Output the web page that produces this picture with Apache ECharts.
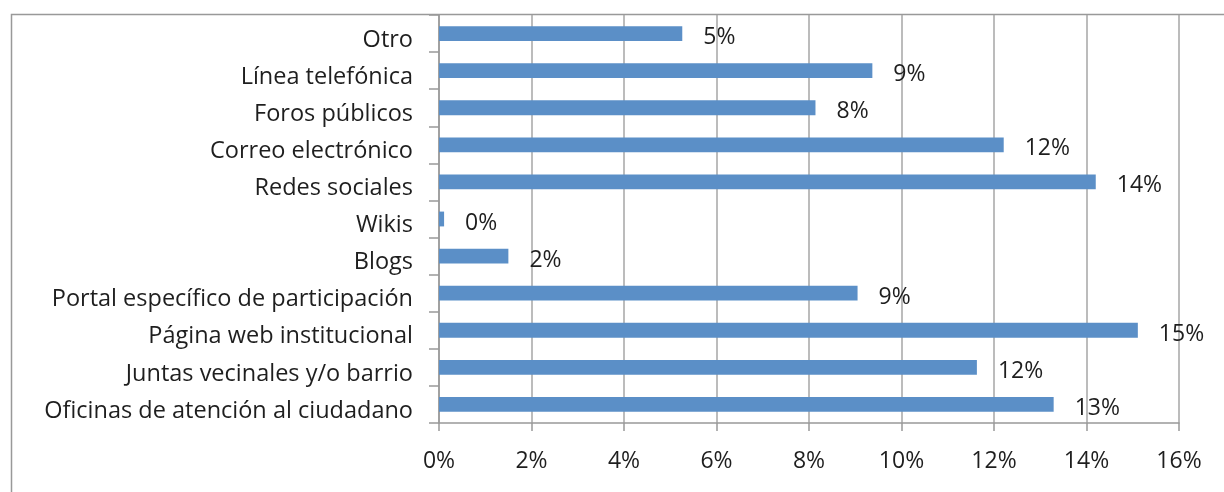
<!DOCTYPE html>
<html>
<head>
<meta charset="utf-8">
<script src="https://cdn.jsdelivr.net/npm/echarts@6/dist/echarts.min.js"></script>
<style>
  html, body { margin: 0; padding: 0; background: #fff; }
  #chart { width: 1224px; height: 492px; }
</style>
</head>
<body>
<div id="chart"></div>
<script>
// categories listed bottom to top (category axis starts at the bottom)
const categories = [
  "Oficinas de atención al ciudadano",
  "Juntas vecinales y/o barrio",
  "Página web institucional",
  "Portal específico de participación",
  "Blogs",
  "Wikis",
  "Redes sociales",
  "Correo electrónico",
  "Foros públicos",
  "Línea telefónica",
  "Otro"
];
// percentages
const values = [13.29, 11.63, 15.11, 9.05, 1.5, 0.11, 14.2, 12.21, 8.14, 9.37, 5.26];
const xTicks = [0, 2, 4, 6, 8, 10, 12, 14, 16];

const textColor = "#1e1e1e";
const fontFamily = "Open Sans";

const chart = echarts.init(document.getElementById("chart"));
chart.setOption({
  animation: false,
  graphic: [
    {
      type: "rect",
      left: 9,
      top: 12,
      shape: { width: 1300, height: 600 },
      style: { fill: "none", stroke: "#999", lineWidth: 1.5 },
      silent: true
    }
  ],
  grid: { left: 439, right: 45, top: 15, bottom: 69 },
  xAxis: {
    type: "value",
    min: xTicks[0],
    max: xTicks[xTicks.length - 1],
    interval: 2,
    axisLine: { show: true, lineStyle: { color: "#999", width: 1.5 } },
    axisTick: { show: true, length: 8, lineStyle: { color: "#999", width: 1.5 } },
    splitLine: { show: true, lineStyle: { color: "#a6a6a6", width: 1.5 } },
    axisLabel: {
      margin: 27,
      color: textColor,
      fontFamily: fontFamily,
      fontSize: 23,
      formatter: v => v + "%"
    }
  },
  yAxis: {
    type: "category",
    data: categories,
    axisLine: { show: true, lineStyle: { color: "#999", width: 1.5 } },
    axisTick: { show: true, length: 10, lineStyle: { color: "#999", width: 1.5 } },
    axisLabel: {
      margin: 26,
      color: textColor,
      fontFamily: fontFamily,
      fontSize: 23,
      formatter: v => "{t|" + v + "}",
      rich: {
        t: {
          color: textColor,
          fontFamily: fontFamily,
          fontSize: 23.5,
          padding: [13, 0, 0, 0]
        }
      }
    }
  },
  series: [
    {
      type: "bar",
      data: values,
      barWidth: "40%",
      itemStyle: { color: "#5b8fc7" },
      label: {
        show: true,
        position: "right",
        distance: 21,
        offset: [0, 4],
        color: textColor,
        fontFamily: fontFamily,
        fontSize: 23,
        formatter: p => Math.round(p.value) + "%"
      }
    }
  ]
});
</script>
</body>
</html>
